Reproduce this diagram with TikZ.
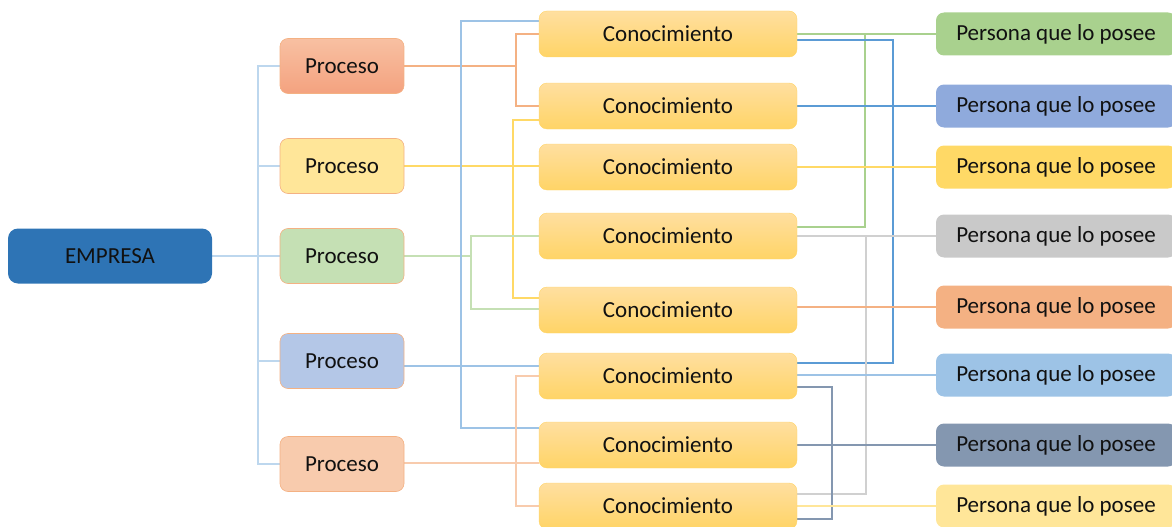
\documentclass[tikz,border=0pt]{standalone}
\usepackage{fontspec}
\setmainfont{Carlito}
\usetikzlibrary{calc,backgrounds}
\definecolor{empresa}{HTML}{2E74B5}
\definecolor{treeline}{HTML}{BDD7EE}
\definecolor{boxedge}{HTML}{F4B183}
\definecolor{kTop}{HTML}{FFDFA0}
\definecolor{kBot}{HTML}{FFD466}
\definecolor{pOneTop}{HTML}{F8C0A2}
\definecolor{pOneBot}{HTML}{F4A27F}
\definecolor{pTwo}{HTML}{FFE699}
\definecolor{pThree}{HTML}{C5E0B4}
\definecolor{pFour}{HTML}{B4C7E7}
\definecolor{pFive}{HTML}{F8CBAD}
\definecolor{rOne}{HTML}{A9D18E}
\definecolor{rTwo}{HTML}{8FAADC}
\definecolor{rThree}{HTML}{FFD966}
\definecolor{rFour}{HTML}{C9C9C9}
\definecolor{rFive}{HTML}{F4B183}
\definecolor{rSix}{HTML}{9DC3E6}
\definecolor{rSeven}{HTML}{8497B0}
\definecolor{rEight}{HTML}{FFE699}
\definecolor{cOrange}{HTML}{F4B183}
\definecolor{cYellow}{HTML}{FFD966}
\definecolor{cGreen}{HTML}{C5E0B4}
\definecolor{cGreenD}{HTML}{A9D18E}
\definecolor{cBlue}{HTML}{9DC3E6}
\definecolor{cBlueD}{HTML}{5B9BD5}
\definecolor{cSalmon}{HTML}{F8CBAD}
\definecolor{cGray}{HTML}{D0D0D0}
\definecolor{cSlate}{HTML}{8497B0}
\definecolor{cLightY}{HTML}{FFE699}
\definecolor{txt}{HTML}{111111}
\tikzset{
  base/.style={rounded corners=8pt, inner sep=0pt, text=txt,
    font=\fontsize{23}{26}\selectfont},
  empbox/.style={base, fill=empresa, minimum width=204pt, minimum height=55pt, rounded corners=10pt},
  procbox/.style={base, draw=boxedge, line width=0.6pt, minimum width=124pt, minimum height=55pt},
  knowbox/.style={base, top color=kTop, bottom color=kBot, draw=kBot, line width=0.4pt,
    minimum width=258pt, minimum height=46pt},
  personbox/.style={base, minimum width=240pt, minimum height=43pt},
  link/.style={line width=2.2pt},
  treelink/.style={line width=1.3pt, draw=treeline},
}
\begin{document}
\begin{tikzpicture}[x=1pt, y=-1pt]
\useasboundingbox (0,0) rectangle (1172,527);
\clip (0,0) rectangle (1172,527);

% bus x positions
\coordinate (bt) at (258,0);
\coordinate (bo) at (516,0);
\coordinate (by) at (513,0);
\coordinate (bg) at (471,0);
\coordinate (bb) at (461,0);
\coordinate (rg) at (865,0);
\coordinate (rb) at (893,0);
\coordinate (rgr) at (866,0);
\coordinate (rs) at (832,0);

% root and processes
\node[empbox] (E) at (110,256) {EMPRESA};
\node[procbox, top color=pOneTop, bottom color=pOneBot] (P1) at (342,66) {Proceso};
\node[procbox, fill=pTwo] (P2) at (342,166) {Proceso};
\node[procbox, fill=pThree] (P3) at (342,256) {Proceso};
\node[procbox, fill=pFour] (P4) at (342,361) {Proceso};
\node[procbox, fill=pFive] (P5) at (342,464) {Proceso};

% knowledge items
\node[knowbox] (K1) at (668,34) {Conocimiento};
\node[knowbox] (K2) at (668,106) {Conocimiento};
\node[knowbox] (K3) at (668,167) {Conocimiento};
\node[knowbox] (K4) at (668,236) {Conocimiento};
\node[knowbox] (K5) at (668,310) {Conocimiento};
\node[knowbox] (K6) at (668,376) {Conocimiento};
\node[knowbox] (K7) at (668,445) {Conocimiento};
\node[knowbox] (K8) at (668,506) {Conocimiento};

% owners
\node[personbox, fill=rOne] (R1) at (1056,34) {Persona que lo posee};
\node[personbox, fill=rTwo] (R2) at (1056,106) {Persona que lo posee};
\node[personbox, fill=rThree] (R3) at (1056,167) {Persona que lo posee};
\node[personbox, fill=rFour] (R4) at (1056,236) {Persona que lo posee};
\node[personbox, fill=rFive] (R5) at (1056,307) {Persona que lo posee};
\node[personbox, fill=rSix] (R6) at (1056,375) {Persona que lo posee};
\node[personbox, fill=rSeven] (R7) at (1056,445) {Persona que lo posee};
\node[personbox, fill=rEight] (R8) at (1056,506) {Persona que lo posee};

\begin{pgfonlayer}{background}
% tree from the root to the processes
\draw[treelink] (E.east) -- (P3.west);
\draw[treelink] (P1.west) -| (P5.west -| bt) -- (P5.west);
\draw[treelink] (P2.west -| bt) -- (P2.west);
\draw[treelink] (P4.west -| bt) -- (P4.west);

% processes to knowledge
\draw[link, cOrange] (P1.east) -| (K1.west -| bo) -- (K1.west);
\draw[link, cOrange] (P1.east -| bo) |- (K2.west);
\draw[link, cYellow] (P2.east) -- (K3.west |- P2.east);
\draw[link, cYellow] ([yshift=-14pt]K2.west) -| ([yshift=12pt]K5.west -| by) -- ([yshift=12pt]K5.west);
\draw[link, cGreen] (P3.east) -| (K4.west -| bg) -- (K4.west);
\draw[link, cGreen] (P3.east -| bg) |- ([yshift=1pt]K5.west);
\coordinate (p4out) at ([yshift=-5pt]P4.east);
\draw[link, cBlue] (p4out) -- (K6.west |- p4out);
\draw[link, cBlue] ([yshift=13pt]K1.west) -| ([yshift=17pt]K7.west -| bb) -- ([yshift=17pt]K7.west);
\coordinate (p5out) at ([yshift=1pt]P5.east);
\draw[link, cSalmon] (p5out) -- (K7.west |- p5out);
\draw[link, cSalmon] (K6.west) -| (K8.west -| bo) -- (K8.west);

% knowledge to owners
\draw[link, cGreenD] (K1.east) -- (R1.west);
\draw[link, cGreenD] (K1.east -| rg) |- ([yshift=9pt]K4.east);
\draw[link, cBlueD] (K2.east) -- (R2.west);
\draw[link, cBlueD, line width=2.6pt] ([yshift=-6pt]K1.east) -| ([yshift=13pt]K6.east -| rb) -- ([yshift=13pt]K6.east);
\draw[link, cYellow] (K3.east) -- (R3.west);
\draw[link, cGray] (K4.east) -- (R4.west);
\draw[link, cGray] (K4.east -| rgr) |- ([yshift=12pt]K8.east);
\draw[link, cOrange] (K5.east |- R5.west) -- (R5.west);
\draw[link, cBlue] (K6.east |- R6.west) -- (R6.west);
\draw[link, cSlate] (K7.east) -- (R7.west);
\draw[link, cSlate] ([yshift=-11pt]K6.east) -| ([yshift=-13pt]K8.east -| rs) -- ([yshift=-13pt]K8.east);
\draw[link, cLightY] (K8.east) -- (R8.west);
\end{pgfonlayer}
\end{tikzpicture}
\end{document}
